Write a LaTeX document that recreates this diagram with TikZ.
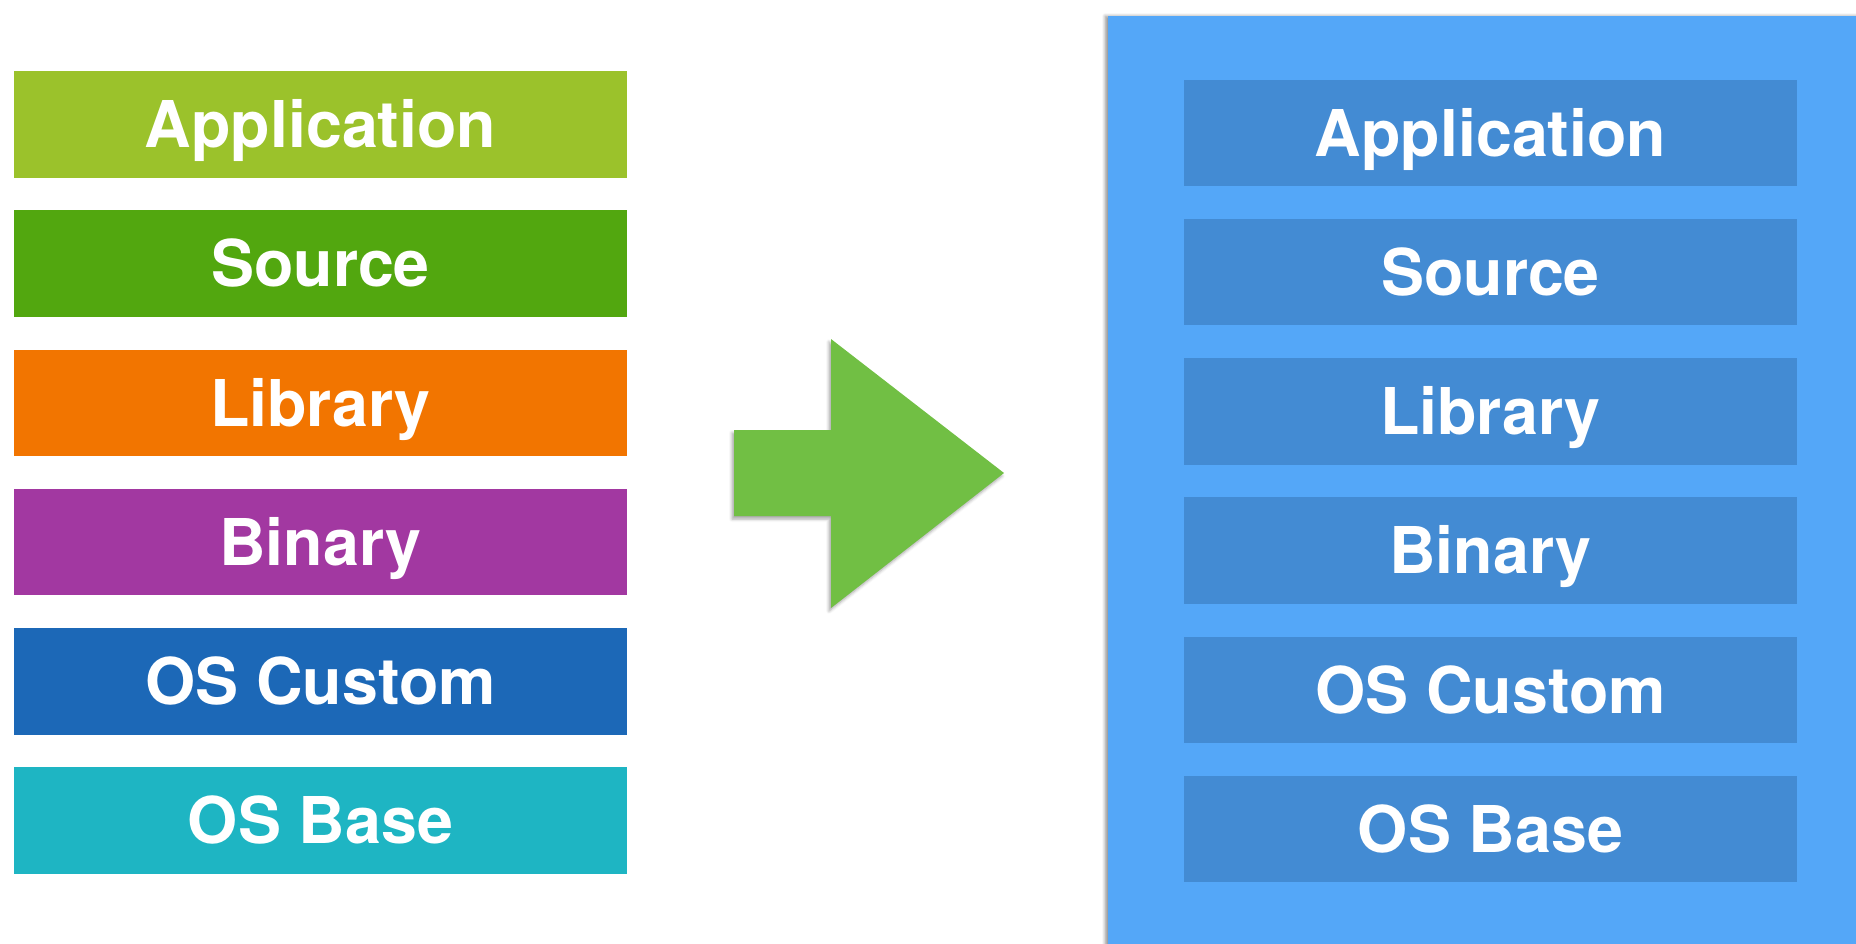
\documentclass[tikz,border=0pt]{standalone}
\usepackage{fontspec}
\setmainfont{TeX Gyre Heros}
\usetikzlibrary{shadows.blur}
\definecolor{cApp}{HTML}{9BC22B}
\definecolor{cSrc}{HTML}{52A70F}
\definecolor{cLib}{HTML}{F27500}
\definecolor{cBin}{HTML}{A238A1}
\definecolor{cOSC}{HTML}{1C68B7}
\definecolor{cOSB}{HTML}{1EB5C3}
\definecolor{cArrow}{HTML}{71BF44}
\definecolor{cPanel}{HTML}{54A7F8}
\definecolor{cInner}{HTML}{438BD3}
\tikzset{
  layerbox/.style={rectangle, draw=none, minimum width=613pt, minimum height=106.5pt,
    inner sep=0pt, text height=46.5pt, text depth=-5pt, text=white,
    font=\fontsize{64.5}{64}\selectfont\bfseries},
}
\begin{document}
\begin{tikzpicture}[x=1pt,y=-1pt]
\useasboundingbox (0,0) rectangle (1856,943);
% left stack
\node[layerbox, fill=cApp] (lapp) at (320.5,124.5) {Application};
\node[layerbox, fill=cSrc] (lsrc) at (320.5,263.7) {Source};
\node[layerbox, fill=cLib] (llib) at (320.5,402.9) {Library};
\node[layerbox, fill=cBin] (lbin) at (320.5,542.1) {Binary};
\node[layerbox, fill=cOSC] (losc) at (320.5,681.3) {OS Custom};
\node[layerbox, fill=cOSB] (losb) at (320.5,820.5) {OS Base};
% arrow
\fill[cArrow, blur shadow={shadow xshift=-2pt, shadow yshift=-3pt, shadow blur radius=3pt, shadow opacity=35}]
  (734,430) -- (831,430) -- (831,339) -- (1004,473) -- (831,608) -- (831,516) -- (734,516) -- cycle;
% right panel
\fill[cPanel, blur shadow={shadow xshift=-3pt, shadow yshift=0pt, shadow blur radius=3pt, shadow opacity=40}]
  (1108,16) rectangle (1860,948);
\node[layerbox, fill=cInner] (rapp) at (1490.5,133) {Application};
\node[layerbox, fill=cInner] (rsrc) at (1490.5,272.2) {Source};
\node[layerbox, fill=cInner] (rlib) at (1490.5,411.4) {Library};
\node[layerbox, fill=cInner] (rbin) at (1490.5,550.6) {Binary};
\node[layerbox, fill=cInner] (rosc) at (1490.5,689.8) {OS Custom};
\node[layerbox, fill=cInner] (rosb) at (1490.5,829) {OS Base};
\end{tikzpicture}
\end{document}
